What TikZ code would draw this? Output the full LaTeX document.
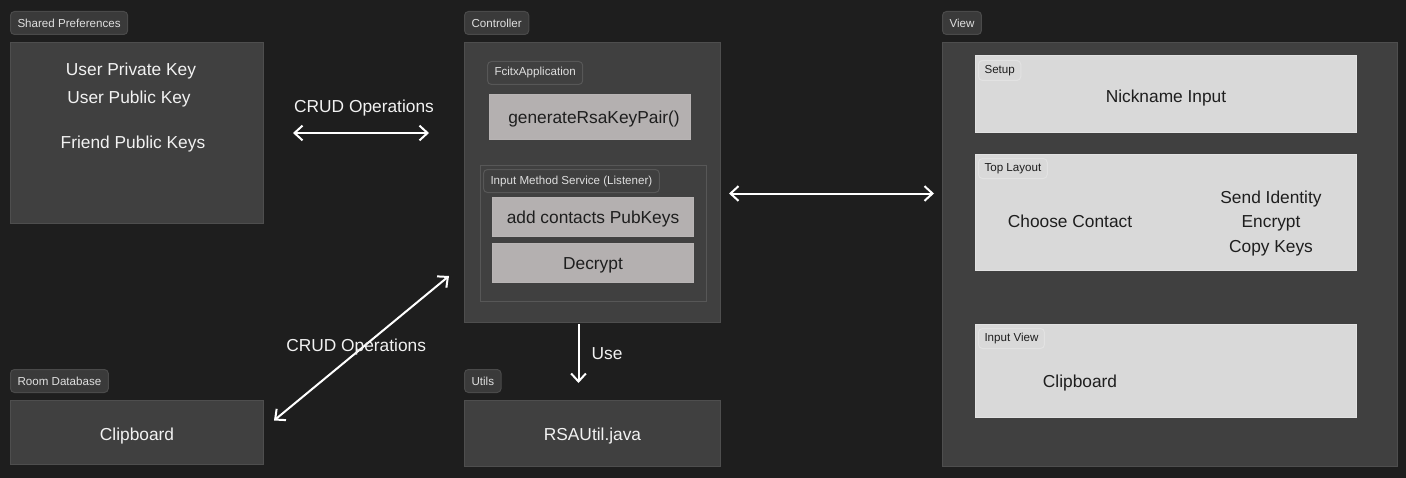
\documentclass[tikz,border=0pt]{standalone}
\usepackage{fontspec}
\setmainfont{Liberation Sans}
\usetikzlibrary{arrows.meta, positioning, calc}

\definecolor{canvas}{HTML}{1E1E1E}
\definecolor{panelfill}{HTML}{404040}
\definecolor{panelline}{HTML}{4E4E4E}
\definecolor{subline}{HTML}{575757}
\definecolor{tagfill}{HTML}{3A3A3A}
\definecolor{tagline}{HTML}{4A4A4A}
\definecolor{methodfill}{HTML}{B4B0B0}
\definecolor{widgetfill}{HTML}{D9D9D9}
\definecolor{widgetline}{HTML}{E2E2E2}
\definecolor{ink}{HTML}{1E1E1E}
\definecolor{chalk}{HTML}{F2F2F2}

\newcommand{\px}{0.75pt}

\begin{document}
\begin{tikzpicture}[x=0.75pt, y=-0.75pt, >={Straight Barb[length=6pt, width=11pt]}]

        % --- Styles ---
        \tikzset{
            boxsize/.style 2 args={minimum width=#1*\px, minimum height=#2*\px},
            panel/.style={rectangle, draw=panelline, fill=panelfill, line width=0.75pt, inner sep=0pt, anchor=north west},
            tag/.style={rectangle, rounded corners=3pt, draw=tagline, fill=tagfill, text=chalk!92!black, line width=0.75pt,
                font=\fontsize{8.7}{10}\selectfont, inner xsep=5.25pt, inner ysep=0pt, minimum height=17.25pt, anchor=south west},
            subtag/.style={tag, fill=panelfill, draw=subline, anchor=north west},
            widgettag/.style={tag, fill=widgetfill, draw=widgetline, text=ink, inner xsep=4.5pt, minimum height=15pt, anchor=north west},
            method/.style={rectangle, fill=methodfill, draw=methodfill!95!white, line width=0.75pt, text=ink, inner sep=0pt,
                text height=9.4pt, text depth=0pt, font=\fontsize{13}{15}\selectfont, anchor=north west},
            widget/.style={rectangle, fill=widgetfill, draw=widgetline, line width=0.75pt, inner sep=0pt, anchor=north west},
            lighttext/.style={text=chalk, text height=9.4pt, text depth=0pt, font=\fontsize{13}{15}\selectfont},
            darktext/.style={text=ink, text height=9.4pt, text depth=0pt, font=\fontsize{13}{15}\selectfont, align=center},
            link/.style={draw=white, line width=1.5pt}
        }

        \fill[canvas] (0,0) rectangle (1406,478);
        \useasboundingbox (0,0) rectangle (1406,478);

        % --- Shared Preferences ---
        \node (shared) [panel, boxsize={253}{181}] at (10,42) {};
        \node (sharedtag) [tag] at ($(shared.north west)+(0,-7)$) {Shared Preferences};
        \node (privkey) [lighttext] at ($(shared.north west)+(121,27)$) {User Private Key};
        \node (pubkey) [lighttext] at ($(shared.north west)+(119,55)$) {User Public Key};
        \node (friendkeys) [lighttext] at ($(shared.north west)+(123,100)$) {Friend Public Keys};

        % --- Room Database ---
        \node (room) [panel, boxsize={253}{64}] at (10,400) {};
        \node (roomtag) [tag] at ($(room.north west)+(0,-7)$) {Room Database};
        \node (roomclip) [lighttext] at ($(room.center)+(0,2)$) {Clipboard};

        % --- Controller ---
        \node (ctrl) [panel, boxsize={256}{280}] at (464,42) {};
        \node (ctrltag) [tag] at ($(ctrl.north west)+(0,-7)$) {Controller};
        \node (apptag) [subtag] at ($(ctrl.north west)+(23,19)$) {FcitxApplication};
        \node (genkeys) [method, boxsize={201}{45}] at ($(ctrl.north west)+(25,52)$) {\hspace*{6pt}generateRsaKeyPair()};
        \node (ims) [panel, draw=subline, boxsize={226}{136}] at ($(ctrl.north west)+(16,123)$) {};
        \node (imstag) [subtag] at ($(ims.north west)+(3,4)$) {Input Method Service (Listener)};
        \node (addkeys) [method, boxsize={201}{39}] at ($(ims.north west)+(12,32)$) {add contacts PubKeys};
        \node (decrypt) [method, boxsize={201}{39}] at ($(ims.north west)+(12,78)$) {Decrypt};

        % --- Utils ---
        \node (utils) [panel, boxsize={256}{66}] at (464,400) {};
        \node (utilstag) [tag] at ($(utils.north west)+(0,-7)$) {Utils};
        \node (rsautil) [lighttext] at ($(utils.center)+(0,1)$) {RSAUtil.java};

        % --- View ---
        \node (view) [panel, boxsize={455}{424}] at (942,42) {};
        \node (viewtag) [tag] at ($(view.north west)+(0,-7)$) {View};

        \node (setup) [widget, boxsize={381}{77}] at ($(view.north west)+(33,13)$) {};
        \node (setuptag) [widgettag] at ($(setup.north west)+(3,5)$) {Setup};
        \node (nickname) [darktext] at ($(setup.center)+(0,2)$) {Nickname Input};

        \node (toplayout) [widget, boxsize={381}{116}] at ($(view.north west)+(33,112)$) {};
        \node (toptag) [widgettag] at ($(toplayout.north west)+(3,4)$) {Top Layout};
        \node (choose) [darktext] at ($(toplayout.center)+(-96,9)$) {Choose Contact};
        \node (actions) [darktext, font=\fontsize{13}{18.4}\selectfont] at ($(toplayout.center)+(105,33.5)$) {Send Identity\\Encrypt\\Copy Keys};

        \node (inputview) [widget, boxsize={381}{93}] at ($(view.north west)+(33,282)$) {};
        \node (inputtag) [widgettag] at ($(inputview.north west)+(3,4)$) {Input View};
        \node (viewclip) [darktext] at ($(inputview.center)+(-86,10)$) {Clipboard};

        % --- Arrows ---
        \draw[link, <->, shorten <=21.75pt, shorten >=26.25pt] (shared.east) -- node[midway, yshift=20.25pt, lighttext] (crudtop) {CRUD Operations} (shared.east -| ctrl.west);

        \coordinate (bus) at ($(ctrl.east)+(0,11)$);
        \draw[link, <->, shorten <=6pt, shorten >=6pt] (bus) -- (bus -| view.west);

        \coordinate (dbtip) at ($(room.east)+(10,-12)$);
        \coordinate (ctrltip) at ($(ctrl.south west)+(-15,-47)$);
        \draw[link, <->] (dbtip) -- node[midway, xshift=-4pt, yshift=2pt, lighttext] (crudlow) {CRUD Operations} (ctrltip);

        \coordinate (usestart) at ($(ctrl.south)+(-14,1)$);
        \coordinate (useend) at ($(utils.north)+(-14,-17)$);
        \draw[link, ->] (usestart) -- node[midway, right=5.8pt, lighttext] (uselabel) {Use} (useend);
\end{tikzpicture}
\end{document}
